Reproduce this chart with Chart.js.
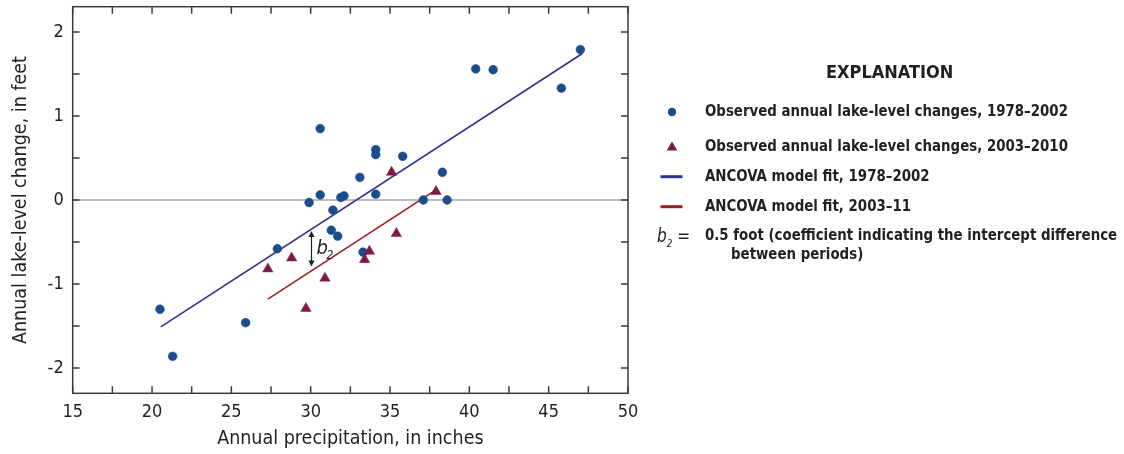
<!DOCTYPE html>
<html>
<head>
<meta charset="utf-8">
<script src="https://cdn.jsdelivr.net/npm/chart.js@4.4.0/dist/chart.umd.min.js"></script>
<style>
  body { margin: 0; background: #fff; }
  #wrap { position: relative; width: 1124px; height: 454px; font-family: "Liberation Sans Narrow", "DejaVu Sans Condensed", sans-serif; color: #231f20; }
  #chartBox { position: absolute; left: 0; top: 0; width: 640px; height: 454px; }
  #legend { position: absolute; left: 0; top: 0; width: 1124px; height: 454px; pointer-events: none; }
  .lg { position: absolute; font-weight: bold; font-size: 16.5px; white-space: nowrap; line-height: 1; transform: scaleX(0.9); transform-origin: 0 0; }
  .mk { position: absolute; }
</style>
</head>
<body>
<div id="wrap">
  <div id="chartBox"><canvas id="scatterLake"></canvas></div>
  <div id="legend">
    <div class="lg" style="left:826px; top:63px; font-size:18px; transform:none;">EXPLANATION</div>
    <svg class="mk" style="left:662px; top:102px;" width="20" height="20"><circle cx="10" cy="10" r="4.2" fill="#1b4d8c"/></svg>
    <div class="lg" style="left:705px; top:103px;">Observed annual lake-level changes, 1978–2002</div>
    <svg class="mk" style="left:662px; top:137px;" width="20" height="20"><polygon points="10,4.5 15.3,13.5 4.7,13.5" fill="#7d1a47"/></svg>
    <div class="lg" style="left:705px; top:138px;">Observed annual lake-level changes, 2003–2010</div>
    <svg class="mk" style="left:660px; top:167px;" width="24" height="20"><line x1="0.5" y1="9.7" x2="22.5" y2="9.7" stroke="#2e3192" stroke-width="3"/></svg>
    <div class="lg" style="left:705px; top:168px;">ANCOVA model fit, 1978–2002</div>
    <svg class="mk" style="left:660px; top:197px;" width="24" height="20"><line x1="0.5" y1="9.7" x2="22.5" y2="9.7" stroke="#a01d22" stroke-width="3"/></svg>
    <div class="lg" style="left:705px; top:198px;">ANCOVA model fit, 2003–11</div>
    <div class="lg" style="left:657px; top:226px; font-weight:normal; font-size:19px;"><i>b</i><sub style="font-size:11px;"><i>2</i></sub> =</div>
    <div class="lg" style="left:705px; top:227px;">0.5 foot (coefficient indicating the intercept difference</div>
    <div class="lg" style="left:731px; top:246px;">between periods)</div>
  </div>
</div>
<script>
// Nilai pengamatan 1978-2002 (lingkaran biru)
var obsX1978 = [20.5, 21.3, 25.9, 27.9, 29.9, 30.6, 30.6, 31.3, 31.4, 31.7, 31.9, 32.1, 33.1, 33.3, 34.1, 34.1, 34.1, 35.8, 37.1, 38.3, 38.6, 40.4, 41.5, 45.8, 47.0];
var obsY1978 = [-1.30, -1.86, -1.46, -0.58, -0.03, 0.85, 0.06, -0.36, -0.12, -0.43, 0.03, 0.05, 0.27, -0.62, 0.60, 0.54, 0.07, 0.52, 0.00, 0.33, 0.00, 1.56, 1.55, 1.33, 1.79];

// Nilai pengamatan 2003-2010 (segitiga merah)
var obsX2003 = [27.3, 28.8, 29.7, 30.9, 33.4, 33.7, 35.1, 35.4, 37.9];
var obsY2003 = [-0.82, -0.69, -1.29, -0.93, -0.71, -0.61, 0.33, -0.40, 0.10];

// Garis model ANCOVA (titik ujung)
var fitX1978 = [20.55, 47.1];
var fitY1978 = [-1.51, 1.74];
var fitX2003 = [27.3, 37.9];
var fitY2003 = [-1.18, 0.12];

// Label sumbu
var xTicks = [15, 20, 25, 30, 35, 40, 45, 50];
var yTicks = [-2, -1, 0, 1, 2];
var xMinor = [15, 17.5, 20, 22.5, 25, 27.5, 30, 32.5, 35, 37.5, 40, 42.5, 45, 47.5, 50];
var yMinor = [-2, -1.5, -1, -0.5, 0, 0.5, 1, 1.5, 2];

// Anotasi b2 (posisi dalam satuan data)
var b2X = 30.05;
var b2Top = -0.37;
var b2Bottom = -0.79;

function toPoints(xs, ys) {
  return xs.map(function (x, i) { return { x: x, y: ys[i] }; });
}

var fontName = '"Liberation Sans Narrow", "DejaVu Sans Condensed", sans-serif';
var ink = "#231f20";

// Plugin: bingkai, tick ke dalam, dan panah b2
var frameTicks = {
  id: "frameTicks",
  afterDatasetsDraw: function (chart) {
    var c = chart.ctx;
    var a = chart.chartArea;
    var sx = chart.scales.x;
    var sy = chart.scales.y;
    var len = 7;
    c.save();
    c.strokeStyle = "#3b3b3b";
    c.lineWidth = 1.5;
    c.strokeRect(a.left, a.top, a.right - a.left, a.bottom - a.top);
    c.beginPath();
    xMinor.forEach(function (v) {
      var px = sx.getPixelForValue(v);
      c.moveTo(px, a.bottom); c.lineTo(px, a.bottom - len);
      c.moveTo(px, a.top); c.lineTo(px, a.top + len);
    });
    yMinor.forEach(function (v) {
      var py = sy.getPixelForValue(v);
      c.moveTo(a.left, py); c.lineTo(a.left + len, py);
      c.moveTo(a.right, py); c.lineTo(a.right - len, py);
    });
    c.stroke();

    // panah b2
    var ax = sx.getPixelForValue(b2X);
    var y1 = sy.getPixelForValue(b2Top);
    var y2 = sy.getPixelForValue(b2Bottom);
    c.strokeStyle = "#231f20";
    c.fillStyle = "#231f20";
    c.lineWidth = 1.2;
    c.beginPath();
    c.moveTo(ax, y1 + 3); c.lineTo(ax, y2 - 3);
    c.stroke();
    c.beginPath();
    c.moveTo(ax, y1); c.lineTo(ax - 3, y1 + 6); c.lineTo(ax + 3, y1 + 6); c.closePath();
    c.moveTo(ax, y2); c.lineTo(ax - 3, y2 - 6); c.lineTo(ax + 3, y2 - 6); c.closePath();
    c.fill();
    c.font = "italic 20px " + fontName;
    c.textBaseline = "alphabetic";
    c.fillText("b", ax + 5, (y1 + y2) / 2 + 5);
    c.font = "italic 12px " + fontName;
    c.fillText("2", ax + 15, (y1 + y2) / 2 + 10);
    c.restore();
  }
};

var ctx = document.getElementById("scatterLake").getContext("2d");

var chartLake = new Chart(ctx, {
  type: "scatter",
  data: {
    datasets: [
      {
        label: "Observed annual lake-level changes, 2003–2010",
        data: toPoints(obsX2003, obsY2003),
        pointStyle: "triangle",
        pointRadius: 6,
        backgroundColor: "#7d1a47",
        borderColor: "#7d1a47",
        borderWidth: 0.5,
        order: 0,
      },
      {
        label: "Observed annual lake-level changes, 1978–2002",
        data: toPoints(obsX1978, obsY1978),
        pointStyle: "circle",
        pointRadius: 4.4,
        backgroundColor: "#1b4d8c",
        borderColor: "#1b4d8c",
        borderWidth: 0.5,
        order: 1,
      },
      {
        label: "ANCOVA model fit, 1978–2002",
        data: toPoints(fitX1978, fitY1978),
        showLine: true,
        pointRadius: 0,
        borderColor: "#2e3192",
        borderWidth: 1.6,
        order: 2,
      },
      {
        label: "ANCOVA model fit, 2003–11",
        data: toPoints(fitX2003, fitY2003),
        showLine: true,
        pointRadius: 0,
        borderColor: "#a01d22",
        borderWidth: 1.6,
        order: 3,
      },
    ],
  },
  options: {
    responsive: true,
    maintainAspectRatio: false,
    animation: false,
    layout: { padding: { top: 6.7, right: 12, bottom: 0, left: 0 } },
    plugins: { legend: { display: false }, tooltip: { enabled: false } },
    scales: {
      x: {
        type: "linear",
        min: 15,
        max: 50,
        afterFit: function (s) { s.height = 60.7; s.paddingLeft = 0; s.paddingRight = 0; },
        afterBuildTicks: function (s) { s.ticks = xTicks.map(function (v) { return { value: v }; }); },
        grid: { display: false, drawTicks: false },
        border: { display: false },
        ticks: { color: ink, padding: 8, font: { family: fontName, size: 18 } },
        title: { display: true, text: "Annual precipitation, in inches", color: ink, padding: { top: 0, bottom: 3 }, font: { family: fontName, size: 19.5 } },
      },
      y: {
        type: "linear",
        min: -2.3,
        max: 2.3,
        afterFit: function (s) { s.width = 72.7; s.paddingTop = 0; s.paddingBottom = 0; },
        afterBuildTicks: function (s) { s.ticks = yTicks.map(function (v) { return { value: v }; }); },
        grid: {
          drawTicks: false,
          lineWidth: 2,
          color: function (c) { return c.tick && c.tick.value === 0 ? "#bcbcbc" : "rgba(0,0,0,0)"; },
        },
        border: { display: false },
        ticks: { color: ink, padding: 9, font: { family: fontName, size: 18 } },
        title: { display: true, text: "Annual lake-level change, in feet", color: ink, padding: { top: 9, bottom: 0 }, font: { family: fontName, size: 19.5 } },
      },
    },
  },
  plugins: [frameTicks],
});
</script>
</body>
</html>
